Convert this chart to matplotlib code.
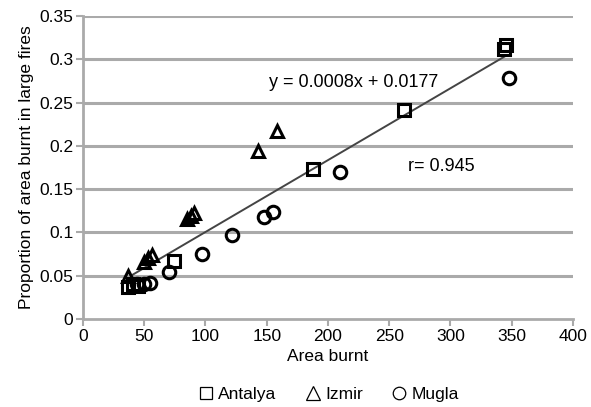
import matplotlib
matplotlib.use("Agg")
import matplotlib.pyplot as plt
from matplotlib.lines import Line2D
import numpy as np

plt.rcParams['font.family'] = ['Liberation Sans', 'DejaVu Sans']

# Data
antalya_x = [37, 41, 45, 74, 188, 262, 344, 345]
antalya_y = [0.037, 0.040, 0.038, 0.067, 0.173, 0.241, 0.312, 0.316]

izmir_x = [37, 50, 53, 56, 85, 88, 91, 143, 158]
izmir_y = [0.050, 0.066, 0.070, 0.074, 0.115, 0.119, 0.122, 0.194, 0.217]

mugla_x = [44, 50, 55, 70, 97, 122, 148, 155, 210, 348]
mugla_y = [0.040, 0.041, 0.042, 0.054, 0.075, 0.097, 0.118, 0.124, 0.170, 0.278]

fit_slope = 0.00083
fit_intercept = 0.0175
fit_range = [40, 345]

equation_text = "y = 0.0008x + 0.0177"
r_text = "r= 0.945"

fig = plt.figure(figsize=(5.91, 4.07), dpi=100)
ax = fig.add_axes([0.1404, 0.2162, 0.829, 0.7445])

grid_col = '#aaaaaa'
for v in np.arange(0.05, 0.36, 0.05):
    ax.axhline(v, color=grid_col, lw=2.2, zorder=0)

# trend line
fx = np.array(fit_range)
ax.plot(fx, fit_slope * fx + fit_intercept, color='#444444', lw=1.4, zorder=2)

mk = dict(linestyle='none', markerfacecolor='none', markeredgecolor='black',
          markeredgewidth=2.2, zorder=3)
ax.plot(antalya_x, antalya_y, marker='s', markersize=8.5, **mk)
ax.plot(izmir_x, izmir_y, marker='^', markersize=8.5, **mk)
ax.plot(mugla_x, mugla_y, marker='o', markersize=9, **mk)

ax.text(152, 0.273, equation_text, fontsize=13, ha='left', va='center')
ax.text(265, 0.176, r_text, fontsize=13, ha='left', va='center')

ax.set_xlim(0, 400)
ax.set_ylim(0, 0.35)
ax.set_xticks(range(0, 401, 50))
ax.set_yticks(np.arange(0, 0.351, 0.05))
ax.set_yticklabels(['0', '0.05', '0.1', '0.15', '0.2', '0.25', '0.3', '0.35'])
ax.tick_params(axis='both', labelsize=12.5, color=grid_col, length=5, width=1.5, pad=2)

for s in ['top', 'right']:
    ax.spines[s].set_visible(False)
for s in ['left', 'bottom']:
    ax.spines[s].set_color(grid_col)
    ax.spines[s].set_linewidth(2)

ax.set_xlabel("Area burnt", fontsize=12.5, labelpad=4)
ax.set_ylabel("Proportion of area burnt in large fires", fontsize=12.5, labelpad=4)

handles = [
    Line2D([], [], marker='s', linestyle='none', markerfacecolor='none',
           markeredgecolor='black', markeredgewidth=0.9, markersize=9),
    Line2D([], [], marker='^', linestyle='none', markerfacecolor='none',
           markeredgecolor='black', markeredgewidth=0.9, markersize=10),
    Line2D([], [], marker='o', linestyle='none', markerfacecolor='none',
           markeredgecolor='black', markeredgewidth=0.9, markersize=9),
]
fig.legend(handles, ['Antalya', 'Izmir', 'Mugla'], loc='center',
           bbox_to_anchor=(0.555, 0.03), ncol=3, frameon=False, fontsize=12.5,
           handletextpad=0.2, columnspacing=1.6, handlelength=1.0)

fig.savefig("out.png", dpi=100)
